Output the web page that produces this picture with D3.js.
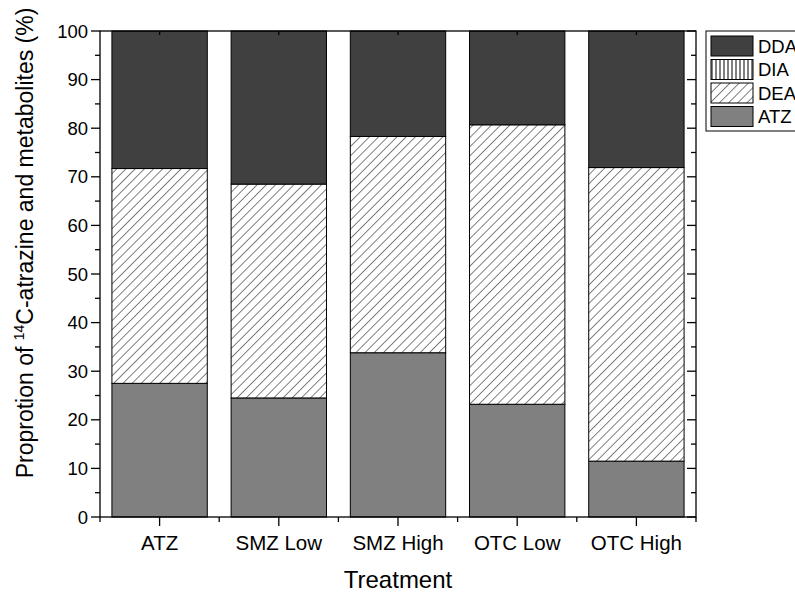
<!DOCTYPE html>
<html>
<head>
  <meta charset="utf-8">
  <title>Stacked bars - atrazine metabolites</title>
  <style>
  body { margin: 0; background: #fff; }
  text { font-family: "Liberation Sans", Arial, sans-serif; fill: #000; }
  .axis path, .axis line { stroke: #000; stroke-width: 1.3; }
  </style>
</head>
<body>
  <div id="chart"></div>
  <script src="https://d3js.org/d3.v7.min.js"></script>
  <script type="text/javascript">
    var treatments = ["ATZ", "SMZ Low", "SMZ High", "OTC Low", "OTC High"];
    var series = ["ATZ", "DEA", "DIA", "DDA"];   // bottom to top
    var atz = [27.5, 24.5, 33.8, 23.2, 11.5];
    var dea = [44.2, 44.0, 44.5, 57.5, 60.4];
    var dia = [0, 0, 0, 0, 0];
    var dda = [28.3, 31.5, 21.7, 19.3, 28.1];
    var yTicks = [0, 10, 20, 30, 40, 50, 60, 70, 80, 90, 100];

    var width = 795, height = 597;
    var margin = {top: 31, right: 99, bottom: 80, left: 100};

    var svg = d3.select("#chart").append("svg")
        .attr("width", width)
        .attr("height", height);

    var defs = svg.append("defs");
    var hatch = defs.append("pattern")
        .attr("id", "hatch")
        .attr("patternUnits", "userSpaceOnUse")
        .attr("width", 6.5).attr("height", 6.5)
        .attr("patternTransform", "rotate(45)");
    hatch.append("rect").attr("width", 6.5).attr("height", 6.5).attr("fill", "#fff");
    hatch.append("line").attr("x1", 0).attr("y1", 0).attr("x2", 0).attr("y2", 6.5)
        .attr("stroke", "#000").attr("stroke-width", 1);

    var vlines = defs.append("pattern")
        .attr("id", "vlines")
        .attr("patternUnits", "userSpaceOnUse")
        .attr("width", 4).attr("height", 4);
    vlines.append("rect").attr("width", 4).attr("height", 4).attr("fill", "#fff");
    vlines.append("line").attr("x1", 1).attr("y1", 0).attr("x2", 1).attr("y2", 4)
        .attr("stroke", "#000").attr("stroke-width", 1);

    var fills = {ATZ: "#808080", DEA: "url(#hatch)", DIA: "url(#vlines)", DDA: "#404040"};
    var values = {ATZ: atz, DEA: dea, DIA: dia, DDA: dda};

    var x = d3.scaleBand()
        .domain(treatments)
        .range([margin.left, width - margin.right])
        .paddingInner(0.2)
        .paddingOuter(0.1);

    var y = d3.scaleLinear()
        .domain([0, 100])
        .range([height - margin.bottom, margin.top]);

    var table = treatments.map(function(t, i) {
      var row = {treatment: t};
      series.forEach(function(s) { row[s] = values[s][i]; });
      return row;
    });
    var stacked = d3.stack().keys(series)(table);

    svg.append("g")
      .selectAll("g")
      .data(stacked)
      .enter().append("g")
        .attr("fill", function(d) { return fills[d.key]; })
      .selectAll("rect")
      .data(function(d) { return d; })
      .enter().append("rect")
        .attr("x", function(d) { return x(d.data.treatment); })
        .attr("y", function(d) { return y(d[1]); })
        .attr("width", x.bandwidth())
        .attr("height", function(d) { return y(d[0]) - y(d[1]); })
        .attr("stroke", "#000")
        .attr("stroke-width", 1);

    // axes
    var x0 = margin.left, x1 = width - margin.right;
    var yb = height - margin.bottom, yt = margin.top;
    var step = x.step();
    var centers = treatments.map(function(t) { return x(t) + x.bandwidth() / 2; });
    var bounds = d3.range(treatments.length + 1).map(function(i) { return x0 + i * step; });
    var minorY = d3.range(5, 100, 10);

    var ax = svg.append("g").attr("class", "axis");
    ax.append("rect")
        .attr("x", x0).attr("y", yt)
        .attr("width", x1 - x0).attr("height", yb - yt)
        .attr("fill", "none").attr("stroke", "#000").attr("stroke-width", 1.3);

    // left
    ax.selectAll(".ly").data(yTicks).enter().append("line")
        .attr("x1", x0 - 9).attr("x2", x0)
        .attr("y1", function(d) { return y(d); }).attr("y2", function(d) { return y(d); });
    ax.selectAll(".lym").data(minorY).enter().append("line")
        .attr("x1", x0 - 5).attr("x2", x0)
        .attr("y1", function(d) { return y(d); }).attr("y2", function(d) { return y(d); });
    // right (inward)
    ax.selectAll(".ry").data(yTicks).enter().append("line")
        .attr("x1", x1 - 9).attr("x2", x1)
        .attr("y1", function(d) { return y(d); }).attr("y2", function(d) { return y(d); });
    ax.selectAll(".rym").data(minorY).enter().append("line")
        .attr("x1", x1 - 5).attr("x2", x1)
        .attr("y1", function(d) { return y(d); }).attr("y2", function(d) { return y(d); });
    // bottom
    ax.selectAll(".bx").data(centers).enter().append("line")
        .attr("x1", function(d) { return d; }).attr("x2", function(d) { return d; })
        .attr("y1", yb).attr("y2", yb + 9);
    ax.selectAll(".bxm").data(bounds).enter().append("line")
        .attr("x1", function(d) { return d; }).attr("x2", function(d) { return d; })
        .attr("y1", yb).attr("y2", yb + 5);
    // top (inward)
    ax.selectAll(".tx").data(centers).enter().append("line")
        .attr("x1", function(d) { return d; }).attr("x2", function(d) { return d; })
        .attr("y1", yt).attr("y2", yt + 4);

    svg.append("g").selectAll("text").data(yTicks).enter().append("text")
        .attr("x", x0 - 12)
        .attr("y", function(d) { return y(d); })
        .attr("dy", "0.36em")
        .attr("text-anchor", "end")
        .attr("font-size", 18.5)
        .text(function(d) { return d; });

    svg.append("g").selectAll("text").data(treatments).enter().append("text")
        .attr("x", function(d) { return x(d) + x.bandwidth() / 2; })
        .attr("y", yb + 33)
        .attr("text-anchor", "middle")
        .attr("font-size", 20.5)
        .text(function(d) { return d; });

    svg.append("text")
        .attr("x", (x0 + x1) / 2)
        .attr("y", 588)
        .attr("text-anchor", "middle")
        .attr("font-size", 24)
        .text("Treatment");

    var yl = svg.append("text")
        .attr("transform", "translate(33," + 243 + ") rotate(-90)")
        .attr("text-anchor", "middle")
        .attr("font-size", 23);
    yl.append("tspan").text("Proprotion of ");
    yl.append("tspan").attr("font-size", 14).attr("dy", -9).text("14");
    yl.append("tspan").attr("dy", 9).text("C-atrazine and metabolites (%)");

    // legend
    var legendKeys = ["DDA", "DIA", "DEA", "ATZ"];
    var lg = svg.append("g").attr("transform", "translate(706,31)");
    lg.append("rect")
        .attr("x", 0).attr("y", 0).attr("width", 100).attr("height", 100)
        .attr("fill", "#fff").attr("stroke", "#000").attr("stroke-width", 1);
    var item = lg.selectAll("g.item").data(legendKeys).enter().append("g")
        .attr("class", "item")
        .attr("transform", function(d, i) { return "translate(5," + (5 + i * 23.5) + ")"; });
    item.append("rect")
        .attr("width", 42).attr("height", 20)
        .attr("fill", function(d) { return fills[d]; })
        .attr("stroke", "#000").attr("stroke-width", 1);
    item.append("text")
        .attr("x", 47).attr("y", 10).attr("dy", "0.36em")
        .attr("font-size", 18.5)
        .text(function(d) { return d; });
  </script>
</body>
</html>
